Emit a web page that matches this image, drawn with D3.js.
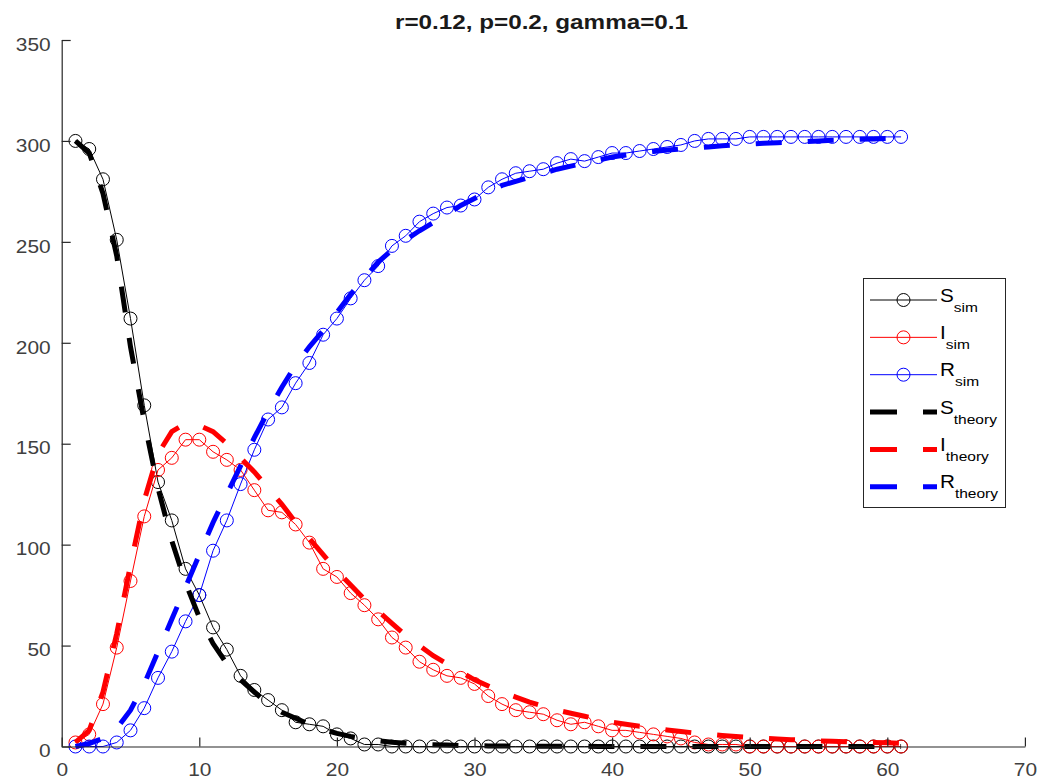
<!DOCTYPE html>
<html>
<head>
<meta charset="utf-8">
<script src="https://cdn.jsdelivr.net/npm/d3@7"></script>
<style>
  html, body { margin: 0; padding: 0; background: #fff; }
  svg { display: block; font-family: "Liberation Sans", Arial, Helvetica, sans-serif; }
</style>
</head>
<body>
<svg id="chart" width="1039" height="782"></svg>
<script>
// ---------------- data ----------------
const days = [1,2,3,4,5,6,7,8,9,10,11,12,13,14,15,16,17,18,19,20,21,22,23,24,25,26,27,28,29,30,
  31,32,33,34,35,36,37,38,39,40,41,42,43,44,45,46,47,48,49,50,51,52,53,54,55,56,57,58,59,60,61];

const S_sim = [300,296,281,251,212,169,131,112,88,75,59,48,35,28,23,18,12,11,10,6,4,1,1,0,0,0,0,0,0,0,
  0,0,0,0,0,0,0,0,0,0,0,0,0,0,0,0,0,0,0,0,0,0,0,0,0,0,0,0,0,0,0];
const I_sim = [2,6,21,49,82,114,137,143,152,152,146,142,137,127,117,116,110,101,88,84,76,70,63,54,49,42,38,35,34,31,
  25,21,18,17,16,13,11,12,10,8,8,7,6,5,4,2,1,1,1,0,0,0,0,0,0,0,0,0,0,0,0];
const R_sim = [0,0,0,2,8,19,34,47,62,75,97,112,130,147,162,168,180,190,204,212,222,231,238,248,253,260,264,267,268,271,
  277,281,284,285,286,289,291,290,292,294,294,295,296,297,298,300,301,301,301,302,302,302,302,302,302,302,302,302,302,302,302];

const S_theory = [300,294,274,243,198,161,128,102,81,64,51,41,33,27,21,17,14,11,8.5,6.5,5,3.8,2.8,2.1,1.6,1.2,0.9,0.7,0.5,0.4,
  0.3,0.2,0.2,0.1,0.1,0.1,0.1,0.1,0,0,0,0,0,0,0,0,0,0,0,0,0,0,0,0,0,0,0,0,0,0,0];
const I_theory = [2,8,27,56,90,122,145,156,160,159,156,150,143,136,128,120,111,103,95,87,80,73,67,61,55,50,45,41,37,33,
  30,27,24.5,22,20,18,16.5,15,13.5,12,11,10,9,8.2,7.4,6.7,6.1,5.5,5,4.5,4.1,3.7,3.4,3.1,2.8,2.6,2.4,2.2,2,1.8,1.6];
const R_theory = [0,1.5,4,9,18,31,47,63,79,95,111,125,139,153,166,178,189,198,206,215,224,232,240,246,251,255.5,259.5,263.5,268,271.5,
  275,278,280,282,284,286,287.5,289,290.5,292,293,294,294.8,295.5,296,296.5,297,297.6,298,298.4,298.8,299.1,299.4,299.7,300,300.3,300.5,300.8,301,301.2,301.4];

const xTicks = [0,10,20,30,40,50,60,70];
const yTicks = [0,50,100,150,200,250,300,350];
const titleText = "r=0.12, p=0.2, gamma=0.1";

const series = [
  {name: "S", sub: "sim", values: S_sim, color: "#000000", type: "sim"},
  {name: "I", sub: "sim", values: I_sim, color: "#ff0000", type: "sim"},
  {name: "R", sub: "sim", values: R_sim, color: "#0000ff", type: "sim"},
  {name: "S", sub: "theory", values: S_theory, color: "#000000", type: "theory"},
  {name: "I", sub: "theory", values: I_theory, color: "#ff0000", type: "theory"},
  {name: "R", sub: "theory", values: R_theory, color: "#0000ff", type: "theory"}
];

// ---------------- layout ----------------
const svg = d3.select("#chart");
const x = d3.scaleLinear().domain([0, 70]).range([61.7, 1024.9]);
const y = d3.scaleLinear().domain([0, 350]).range([746.5, 40]);
const axisColor = "#262626";
const labelColor = "#404040";
const dash = "26 26";

function stretch(sel, k) {
  sel.each(function() {
    const L = this.getComputedTextLength();
    d3.select(this).attr("textLength", L * k).attr("lengthAdjust", "spacingAndGlyphs");
  });
}

// series
const plot = svg.append("g");
const line = d3.line().x((d, i) => x(days[i])).y(d => y(d));

series.filter(s => s.type === "sim").forEach(s => {
  plot.append("path").datum(s.values)
    .attr("d", line).attr("fill", "none")
    .attr("stroke", s.color).attr("stroke-width", 1);
  plot.append("g").selectAll("circle").data(s.values).join("circle")
    .attr("cx", (d, i) => x(days[i])).attr("cy", d => y(d)).attr("r", 6.5)
    .attr("fill", "none").attr("stroke", s.color).attr("stroke-width", 1);
});
series.filter(s => s.type === "theory").forEach(s => {
  plot.append("path").datum(s.values)
    .attr("d", line).attr("fill", "none")
    .attr("stroke", s.color).attr("stroke-width", 5)
    .attr("stroke-dasharray", dash);
});

// axes
const xAxis = svg.append("g").attr("transform", `translate(0,${y(0)})`)
  .call(d3.axisBottom(x).tickValues(xTicks).tickFormat(d3.format("d"))
    .tickSizeInner(-9).tickSizeOuter(0).tickPadding(16.5));
const yAxis = svg.append("g").attr("transform", `translate(${x(0)},0)`)
  .call(d3.axisLeft(y).tickValues(yTicks).tickFormat(d3.format("d"))
    .tickSizeInner(-9).tickSizeOuter(0).tickPadding(11));

[xAxis, yAxis].forEach(a => {
  a.select(".domain").attr("stroke", axisColor).attr("stroke-width", 1.2);
  a.selectAll(".tick line").attr("stroke", axisColor).attr("stroke-width", 1.2);
  a.selectAll(".tick text").attr("fill", labelColor)
    .style("font-size", "19px").style("font-family", "'Liberation Sans', Arial, sans-serif");
});
yAxis.selectAll(".tick text").attr("dy", "0.54em");
stretch(xAxis.selectAll(".tick text"), 1.1);
stretch(yAxis.selectAll(".tick text"), 1.1);

// title
const title = svg.append("text")
  .attr("x", 541.5).attr("y", 29).attr("text-anchor", "middle")
  .attr("font-size", 21).attr("font-weight", "bold").attr("fill", "#1a1a1a")
  .text(titleText);
title.attr("textLength", 293).attr("lengthAdjust", "spacingAndGlyphs");

// legend
const lg = svg.append("g");
lg.append("rect").attr("x", 863.5).attr("y", 278.5).attr("width", 142).attr("height", 229)
  .attr("fill", "#fff").attr("stroke", axisColor).attr("stroke-width", 1);
series.forEach((s, i) => {
  const cy = 300 + i * 37.35;
  if (s.type === "sim") {
    lg.append("line").attr("x1", 870).attr("x2", 937).attr("y1", cy).attr("y2", cy)
      .attr("stroke", s.color).attr("stroke-width", 1);
    lg.append("circle").attr("cx", 903.5).attr("cy", cy).attr("r", 6.5)
      .attr("fill", "none").attr("stroke", s.color).attr("stroke-width", 1);
  } else {
    lg.append("line").attr("x1", 870).attr("x2", 937).attr("y1", cy).attr("y2", cy)
      .attr("stroke", s.color).attr("stroke-width", 5).attr("stroke-dasharray", "27 26");
  }
  const tg = lg.append("g").attr("transform", `translate(940,${cy + 1.7}) scale(1.15,1)`);
  const t = tg.append("text").attr("x", 0).attr("y", 0).attr("fill", "#000");
  t.append("tspan").attr("font-size", 18).text(s.name);
  t.append("tspan").attr("font-size", 13.5).attr("dy", 10).text(s.sub);
});
</script>
</body>
</html>
